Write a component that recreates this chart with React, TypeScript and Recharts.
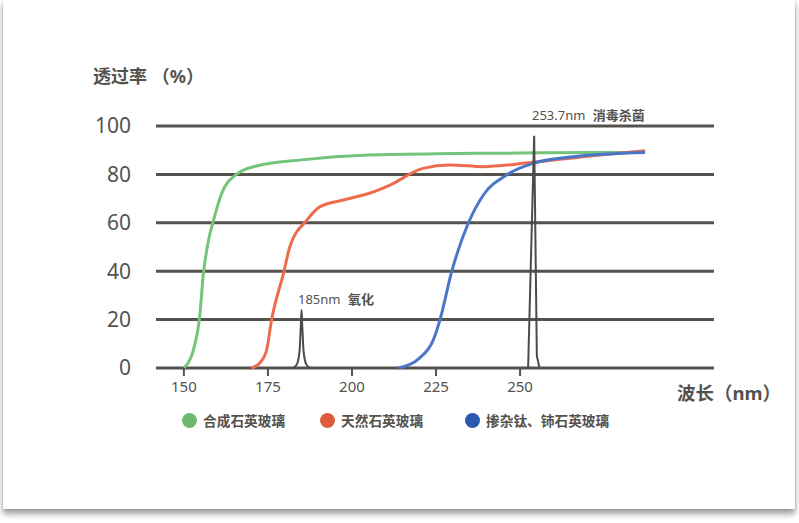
import React from 'react';
import { LineChart, Line, XAxis, YAxis, CartesianGrid } from 'recharts';

// wavelength (nm) / transmittance (%)
const syntheticWl = [150, 152, 153.3, 154.6, 155.8, 157.2, 158.8, 161.2, 165.6, 171.6, 185, 205, 230, 250, 270, 287];
const syntheticT = [0, 4, 10, 20, 39, 52, 61, 72, 80, 83.5, 86, 88, 88.6, 88.8, 89, 89];

const naturalWl = [170, 172.5, 174.6, 176.1, 179.6, 181.5, 186.5, 190.5, 197.4, 205.4, 211.3, 221.1, 229.2, 239, 253.9, 270, 287.2];
const naturalT = [0, 2, 7.4, 20, 39, 50, 61, 66.7, 69.4, 72.3, 75.6, 82.5, 83.9, 83.2, 85, 87.5, 89.8];

const dopedWl = [213.8, 220, 224.2, 226.2, 229.7, 234.6, 239.1, 246, 254, 265.9, 287.2];
const dopedT = [0, 4, 11.6, 20, 40, 59.8, 71.5, 79.8, 84.6, 87.3, 89];

const peak185Wl = [182.5, 183.6, 184.4, 184.8, 185, 185.2, 185.6, 186.4, 187.5];
const peak185T = [0, 1.5, 7, 18, 24, 18, 7, 1.5, 0];

const peak254Wl = [252.4, 254.2, 255.0, 255.8];
const peak254T = [0, 96, 5, 0];

const xTicks = [150, 175, 200, 225, 250];
const yTicks = [0, 20, 40, 60, 80, 100];

const legendItems = [
  { name: '合成石英玻璃', color: '#6cb96f', left: 182 },
  { name: '天然石英玻璃', color: '#de5b3c', left: 320 },
  { name: '掺杂钛、铈石英玻璃', color: '#2c58b0', left: 465 },
];

const toPoints = (xs: number[], ys: number[]) => xs.map((x, i) => ({ x, y: ys[i] }));

const font = '"Noto Sans", "Noto Sans CJK SC", sans-serif';
const textColor = '#55524e';

export default function App() {
  return (
    <div style={{ position: 'absolute', left: 0, top: 0, width: 799, height: 523, background: '#fff', fontFamily: font }}>
      <div
        style={{
          position: 'absolute',
          left: 3,
          top: 0,
          width: 792,
          height: 509,
          background: '#fff',
          boxShadow: '0 5px 6px rgba(0,0,0,0.38), 0 0 2px rgba(0,0,0,0.25)',
        }}
      />
      <div style={{ position: 'absolute', left: 0, top: 0 }}>
        <LineChart width={799} height={523} margin={{ top: 126, right: 85, bottom: 125, left: 96 }}>
          <CartesianGrid horizontal vertical={false} stroke={textColor} strokeWidth={3} />
          <XAxis
            dataKey="x"
            type="number"
            domain={[141.7, 307.7]}
            ticks={xTicks}
            allowDataOverflow
            axisLine={false}
            tickLine={{ stroke: textColor, strokeWidth: 2 }}
            tickSize={8}
            tickMargin={5}
            height={30}
            tick={{ fill: textColor, fontSize: 15, fontFamily: font }}
          />
          <YAxis
            dataKey="y"
            type="number"
            domain={[0, 100]}
            ticks={yTicks}
            axisLine={false}
            tickLine={false}
            tickSize={0}
            tickMargin={25}
            width={60}
            tick={{ fill: textColor, fontSize: 21, fontFamily: font }}
          />
          <Line data={toPoints(peak185Wl, peak185T)} dataKey="y" type="monotone" stroke="#4d4b48" strokeWidth={2} dot={false} isAnimationActive={false} />
          <Line data={toPoints(syntheticWl, syntheticT)} dataKey="y" type="monotone" stroke="#74c47a" strokeWidth={3} dot={false} isAnimationActive={false} />
          <Line data={toPoints(naturalWl, naturalT)} dataKey="y" type="monotone" stroke="#ef6b4e" strokeWidth={3} dot={false} isAnimationActive={false} />
          <Line data={toPoints(dopedWl, dopedT)} dataKey="y" type="monotone" stroke="#4877c8" strokeWidth={3} dot={false} isAnimationActive={false} />
          <Line data={toPoints(peak254Wl, peak254T)} dataKey="y" type="linear" stroke="#4d4b48" strokeWidth={2} dot={false} isAnimationActive={false} />
        </LineChart>
      </div>

      <div style={{ position: 'absolute', left: 93, top: 62, fontSize: 18, fontWeight: 700, color: textColor, whiteSpace: 'nowrap' }}>透过率 （%）</div>
      <div style={{ position: 'absolute', left: 677, top: 379, fontSize: 18.5, fontWeight: 700, color: textColor, whiteSpace: 'nowrap' }}>波长（nm）</div>

      <div style={{ position: 'absolute', left: 532, top: 105, fontSize: 13, color: textColor, whiteSpace: 'nowrap' }}>
        253.7nm <b style={{ marginLeft: 4 }}>消毒杀菌</b>
      </div>
      <div style={{ position: 'absolute', left: 298, top: 289, fontSize: 13, color: textColor, whiteSpace: 'nowrap' }}>
        185nm <b style={{ marginLeft: 4 }}>氧化</b>
      </div>

      {legendItems.map((item) => (
        <div
          key={item.name}
          style={{ position: 'absolute', left: item.left, top: 410, display: 'flex', alignItems: 'center', fontSize: 13.7, fontWeight: 700, color: textColor, whiteSpace: 'nowrap' }}
        >
          <span style={{ width: 15, height: 15, borderRadius: 8, background: item.color, marginRight: 6, display: 'inline-block' }} />
          <span>{item.name}</span>
        </div>
      ))}
    </div>
  );
}
